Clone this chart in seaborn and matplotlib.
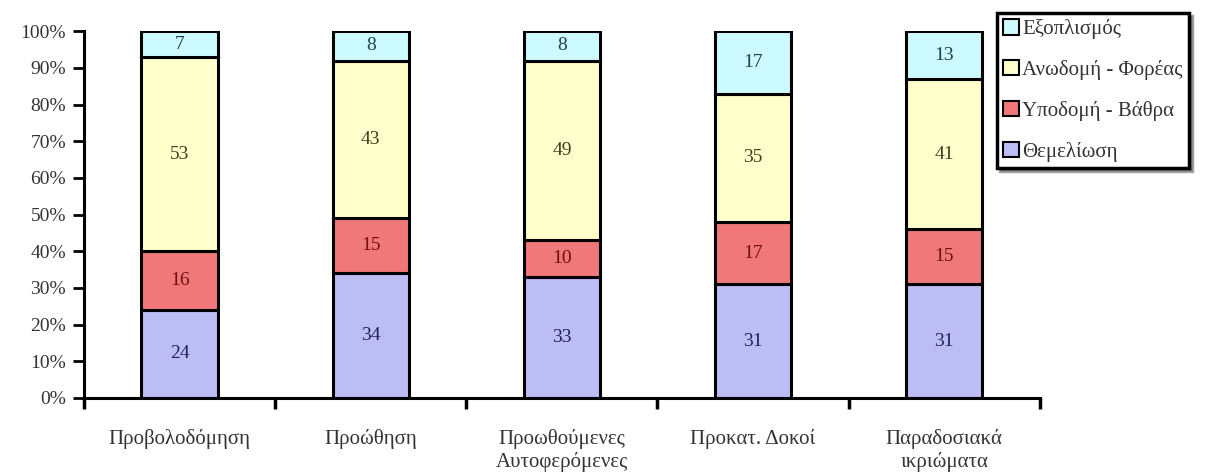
import matplotlib
matplotlib.use("Agg")
import matplotlib.pyplot as plt
import seaborn as sns
import pandas as pd
import numpy as np
from matplotlib.patches import Patch

sns.set_theme(style="white")
plt.rcParams["font.family"] = ["Liberation Serif", "DejaVu Serif"]

categories = ["Προβολοδόμηση", "Προώθηση", "Προωθούμενες\nΑυτοφερόμενες",
              "Προκατ. Δοκοί", "Παραδοσιακά\nικριώματα"]
foundation = [24, 34, 33, 31, 31]      # Θεμελίωση
substructure = [16, 15, 10, 17, 15]    # Υποδομή - Βάθρα
superstructure = [53, 43, 49, 35, 41]  # Ανωδομή - Φορέας
equipment = [7, 8, 8, 17, 13]          # Εξοπλισμός

series = [
    ("Θεμελίωση", foundation, "#BDBDF5", "#202060"),
    ("Υποδομή - Βάθρα", substructure, "#F07878", "#701010"),
    ("Ανωδομή - Φορέας", superstructure, "#FFFFCC", "#404020"),
    ("Εξοπλισμός", equipment, "#CCFAFF", "#204050"),
]

fig = plt.figure(figsize=(12.09, 4.73), dpi=100)
ax = fig.add_axes([0.0695, 0.1586, 0.7905, 0.7755])

bottom = np.zeros(len(categories))
for name, vals, fill, tcol in series:
    df = pd.DataFrame({"cat": categories, "val": vals})
    sns.barplot(data=df, x="cat", y="val", bottom=bottom, color=fill,
                saturation=1, width=0.40, edgecolor="black", linewidth=2.2,
                ax=ax, zorder=3)
    cont = ax.containers[-1]
    for rect, v in zip(cont, vals):
        ax.text(rect.get_x() + rect.get_width() / 2,
                rect.get_y() + rect.get_height() / 2, f"{v}",
                ha="center", va="center", fontsize=14, color=tcol, zorder=4)
    bottom = bottom + np.array(vals)

ax.set_xlim(-0.5, len(categories) - 0.5)
ax.set_ylim(0, 100)
ax.set_xlabel("")
ax.set_ylabel("")

ax.set_yticks(np.arange(0, 101, 10))
ax.set_yticklabels([f"{t}%" for t in range(0, 101, 10)], fontsize=14, color="#333333")
ax.tick_params(axis="y", direction="out", length=8, width=2, color="black", pad=5, left=True)

ax.set_xticks(np.arange(-0.5, len(categories), 1.0))
ax.set_xticklabels([])
ax.set_xticks(np.arange(len(categories)), minor=True)
ax.set_xticklabels(categories, minor=True, fontsize=15, color="#333333", linespacing=1.25)
ax.tick_params(axis="x", which="major", direction="out", length=8, width=2.5, color="black", bottom=True)
ax.tick_params(axis="x", which="minor", length=0, pad=22)
for lbl in ax.get_xticklabels(minor=True):
    lbl.set_verticalalignment("top")

for s in ["top", "right"]:
    ax.spines[s].set_visible(False)
for s in ["left", "bottom"]:
    ax.spines[s].set_color("black")
    ax.spines[s].set_linewidth(2.2)
    ax.spines[s].set_zorder(5)

handles = [Patch(facecolor=fill, edgecolor="black", linewidth=1.5, label=name)
           for name, vals, fill, tcol in reversed(series)]
leg = fig.legend(handles=handles, loc="upper left", bbox_to_anchor=(0.8247, 0.9725),
                 frameon=True, fancybox=False, shadow=True, fontsize=15,
                 handlelength=0.75, handleheight=0.75, handletextpad=0.15,
                 labelspacing=1.0, borderpad=0.3, borderaxespad=0)
leg.get_frame().set_edgecolor("black")
leg.get_frame().set_linewidth(2.5)
for t in leg.get_texts():
    t.set_color("#333333")

fig.savefig("out.png", dpi=100)
